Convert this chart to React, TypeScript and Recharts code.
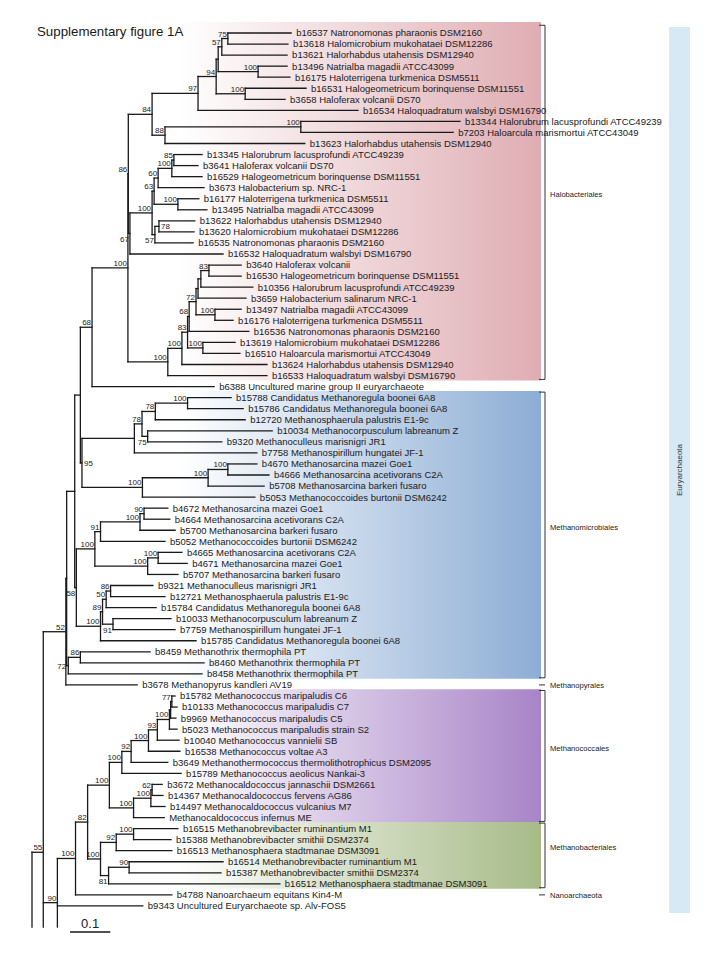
import React from 'react';
import { ComposedChart, XAxis, YAxis, Scatter, ReferenceLine, ReferenceArea } from 'recharts';

type NodeDef = [string, number, number | null, string[]];

const leafNames: string[] = [
  'b16537 Natronomonas pharaonis DSM2160',
  'b13618 Halomicrobium mukohataei DSM12286',
  'b13621 Halorhabdus utahensis DSM12940',
  'b13496 Natrialba magadii ATCC43099',
  'b16175 Haloterrigena turkmenica DSM5511',
  'b16531 Halogeometricum borinquense DSM11551',
  'b3658 Haloferax volcanii DS70',
  'b16534 Haloquadratum walsbyi DSM16790',
  'b13344 Halorubrum lacusprofundi ATCC49239',
  'b7203 Haloarcula marismortui ATCC43049',
  'b13623 Halorhabdus utahensis DSM12940',
  'b13345 Halorubrum lacusprofundi ATCC49239',
  'b3641 Haloferax volcanii DS70',
  'b16529 Halogeometricum borinquense DSM11551',
  'b3673 Halobacterium sp. NRC-1',
  'b16177 Haloterrigena turkmenica DSM5511',
  'b13495 Natrialba magadii ATCC43099',
  'b13622 Halorhabdus utahensis DSM12940',
  'b13620 Halomicrobium mukohataei DSM12286',
  'b16535 Natronomonas pharaonis DSM2160',
  'b16532 Haloquadratum walsbyi DSM16790',
  'b3640 Haloferax volcanii',
  'b16530 Halogeometricum borinquense DSM11551',
  'b10356 Halorubrum lacusprofundi ATCC49239',
  'b3659 Halobacterium salinarum NRC-1',
  'b13497 Natrialba magadii ATCC43099',
  'b16176 Haloterrigena turkmenica DSM5511',
  'b16536 Natronomonas pharaonis DSM2160',
  'b13619 Halomicrobium mukohataei DSM12286',
  'b16510 Haloarcula marismortui ATCC43049',
  'b13624 Halorhabdus utahensis DSM12940',
  'b16533 Haloquadratum walsbyi DSM16790',
  'b6388 Uncultured marine group II euryarchaeote',
  'b15788 Candidatus Methanoregula boonei 6A8',
  'b15786 Candidatus Methanoregula boonei 6A8',
  'b12720 Methanosphaerula palustris E1-9c',
  'b10034 Methanocorpusculum labreanum Z',
  'b9320 Methanoculleus marisnigri JR1',
  'b7758 Methanospirillum hungatei JF-1',
  'b4670 Methanosarcina mazei Goe1',
  'b4666 Methanosarcina acetivorans C2A',
  'b5708 Methanosarcina barkeri fusaro',
  'b5053 Methanococcoides burtonii DSM6242',
  'b4672 Methanosarcina mazei Goe1',
  'b4664 Methanosarcina acetivorans C2A',
  'b5700 Methanosarcina barkeri fusaro',
  'b5052 Methanococcoides burtonii DSM6242',
  'b4665 Methanosarcina acetivorans C2A',
  'b4671 Methanosarcina mazei Goe1',
  'b5707 Methanosarcina barkeri fusaro',
  'b9321 Methanoculleus marisnigri JR1',
  'b12721 Methanosphaerula palustris E1-9c',
  'b15784 Candidatus Methanoregula boonei 6A8',
  'b10033 Methanocorpusculum labreanum Z',
  'b7759 Methanospirillum hungatei JF-1',
  'b15785 Candidatus Methanoregula boonei 6A8',
  'b8459 Methanothrix thermophila PT',
  'b8460 Methanothrix thermophila PT',
  'b8458 Methanothrix thermophila PT',
  'b3678 Methanopyrus kandleri AV19',
  'b15782 Methanococcus maripaludis C6',
  'b10133 Methanococcus maripaludis C7',
  'b9969 Methanococcus maripaludis C5',
  'b5023 Methanococcus maripaludis strain S2',
  'b10040 Methanococcus vannielii SB',
  'b16538 Methanococcus voltae A3',
  'b3649 Methanothermococcus thermolithotrophicus DSM2095',
  'b15789 Methanococcus aeolicus Nankai-3',
  'b3672 Methanocaldococcus jannaschii DSM2661',
  'b14367 Methanocaldococcus fervens AG86',
  'b14497 Methanocaldococcus vulcanius M7',
  'Methanocaldococcus infernus ME',
  'b16515 Methanobrevibacter ruminantium M1',
  'b15388 Methanobrevibacter smithii DSM2374',
  'b16513 Methanosphaera stadtmanae DSM3091',
  'b16514 Methanobrevibacter ruminantium M1',
  'b15387 Methanobrevibacter smithii DSM2374',
  'b16512 Methanosphaera stadtmanae DSM3091',
  'b4788 Nanoarchaeum equitans Kin4-M',
  'b9343 Uncultured Euryarchaeote sp. Alv-FOS5',
];

// distance from root (substitutions per site) of each leaf tip
const tipDepths: number[] = [
  0.643, 0.635, 0.633, 0.633, 0.640, 0.680, 0.628, 0.809, 1.062, 1.045,
  0.677, 0.422, 0.412, 0.422, 0.427, 0.414, 0.434, 0.404, 0.402, 0.400,
  0.474, 0.519, 0.519, 0.548, 0.531, 0.519, 0.499, 0.538, 0.504, 0.516,
  0.583, 0.583, 0.452, 0.494, 0.524, 0.529, 0.596, 0.471, 0.558, 0.558,
  0.588, 0.576, 0.553, 0.337, 0.342, 0.355, 0.330, 0.372, 0.385, 0.362,
  0.300, 0.330, 0.308, 0.345, 0.355, 0.407, 0.293, 0.427, 0.422, 0.261,
  0.355, 0.360, 0.357, 0.360, 0.365, 0.367, 0.337, 0.370, 0.323, 0.325,
  0.330, 0.328, 0.362, 0.345, 0.347, 0.474, 0.469, 0.615, 0.347, 0.275,
];

// branches that continue past the bottom of the figure (cut off)
const continuationIds: string[] = ['ph1', 'ph2', 'ph3'];
const continuationRows: number[] = [82.7, 94.1, 110];

// [id, depth, bootstrap, children]
const haloNodes: NodeDef[] = [
  ['A', 0.486, 75, ['L1', 'L2']],
  ['B', 0.471, 57, ['A', 'L3']],
  ['C', 0.561, 100, ['L4', 'L5']],
  ['BC', 0.462, null, ['B', 'C']],
  ['D', 0.529, 100, ['L6', 'L7']],
  ['E', 0.457, 94, ['BC', 'D']],
  ['F', 0.412, 97, ['E', 'L8']],
  ['G', 0.667, 100, ['L9', 'L10']],
  ['H', 0.330, 88, ['G', 'L11']],
  ['I', 0.298, 84, ['F', 'H']],
  ['J', 0.352, 85, ['L12', 'L13']],
  ['K', 0.347, 100, ['J', 'L14']],
  ['Lq', 0.313, 60, ['K', 'L15']],
  ['Mq', 0.362, 100, ['L16', 'L17']],
  ['N', 0.303, 63, ['Lq', 'Mq']],
  ['O', 0.315, 78, ['L18', 'L19']],
  ['Pq', 0.305, 57, ['O', 'L20']],
  ['Q', 0.298, 100, ['N', 'Pq']],
  ['R', 0.243, 67, ['Q', 'L21']],
  ['S', 0.239, 86, ['I', 'R']],
  ['U1', 0.439, 83, ['L22', 'L23']],
  ['U2', 0.419, null, ['U1', 'L24']],
  ['U3', 0.412, null, ['U2', 'L25']],
  ['U4', 0.454, 100, ['L26', 'L27']],
  ['U5', 0.407, 72, ['U3', 'U4']],
  ['U6', 0.390, 68, ['U5', 'L28']],
  ['X1', 0.424, 100, ['L29', 'L30']],
  ['U7', 0.386, 83, ['U6', 'X1']],
  ['Yh', 0.372, 100, ['U7', 'L31']],
  ['U', 0.337, 100, ['Yh', 'L32']],
  ['T', 0.238, 100, ['S', 'U']],
  ['V', 0.149, 68, ['T', 'L33']],
];

const microNodes: NodeDef[] = [
  ['M1', 0.386, 100, ['L34', 'L35']],
  ['M2', 0.306, 78, ['M1', 'L36']],
  ['M3', 0.287, 75, ['L37', 'L38']],
  ['M4', 0.273, 78, ['M2', 'M3']],
  ['M5', 0.254, null, ['M4', 'L39']],
  ['M6', 0.486, 100, ['L40', 'L41']],
  ['M7', 0.437, 100, ['M6', 'L42']],
  ['M8', 0.274, 100, ['M7', 'L43']],
  ['M9', 0.124, 95, ['M5', 'M8']],
  ['Z', 0.120, null, ['V', 'M9']],
  ['M10', 0.278, 90, ['L44', 'L45']],
  ['M11', 0.268, 100, ['M10', 'L46']],
  ['M12', 0.170, 91, ['M11', 'L47']],
  ['M13', 0.313, 100, ['L48', 'L49']],
  ['M14', 0.287, 100, ['M13', 'L50']],
  ['M15', 0.156, 100, ['M12', 'M14']],
  ['M16', 0.195, 86, ['L51', 'L52']],
  ['M17', 0.184, 50, ['M16', 'L53']],
  ['M18', 0.201, 91, ['L54', 'L55']],
  ['M19', 0.175, 89, ['M17', 'M18']],
  ['M20', 0.170, 100, ['M19', 'L56']],
  ['M21', 0.110, 58, ['M15', 'M20']],
  ['Y2', 0.106, null, ['Z', 'M21']],
  ['N1', 0.120, 86, ['L57', 'L58']],
  ['N2', 0.090, 72, ['N1', 'L59']],
  ['X', 0.086, null, ['Y2', 'N2']],
  ['W52', 0.084, 52, ['X', 'L60']],
];

const coccusNodes: NodeDef[] = [
  ['C1', 0.347, 77, ['L61', 'L62']],
  ['C2', 0.344, null, ['C1', 'L63']],
  ['C3', 0.341, 100, ['C2', 'L64']],
  ['C4', 0.311, 93, ['C3', 'L65']],
  ['C5', 0.289, 100, ['C4', 'L66']],
  ['C6', 0.246, 92, ['C5', 'L67']],
  ['C7', 0.223, 100, ['C6', 'L68']],
  ['C8', 0.298, 62, ['L69', 'L70']],
  ['C9', 0.295, 100, ['C8', 'L71']],
  ['C10', 0.252, 100, ['C9', 'L72']],
  ['C11', 0.192, 100, ['C7', 'C10']],
  ['B1', 0.252, 100, ['L73', 'L74']],
  ['B2', 0.209, 92, ['B1', 'L75']],
  ['B3', 0.241, 90, ['L76', 'L77']],
  ['B4', 0.190, 81, ['B3', 'L78']],
  ['B5', 0.170, 100, ['B2', 'B4']],
  ['C12', 0.138, 82, ['C11', 'B5']],
  ['D1', 0.108, 100, ['C12', 'L79']],
  ['D2', 0.063, 90, ['D1', 'L80', 'ph1']],
  ['R2', 0.028, 55, ['W52', 'D2', 'ph2']],
  ['R1', 0.0, null, ['R2', 'ph3']],
];

const cladeNames: string[] = ['Halobacteriales', 'Methanomicrobiales', 'Methanopyrales', 'Methanococcales', 'Methanobacteriales', 'Nanoarchaeota'];
const cladeFirstLeaf: number[] = [1, 34, 60, 61, 73, 79];
const cladeLastLeaf: number[] = [32, 59, 60, 72, 78, 79];
const bandCladeIndex: number[] = [0, 1, 3, 4];
const bandColors: string[] = ['#dfadb3', '#8cadd5', '#a884c7', '#a7bb88'];

const labelSide: Record<string, string> = {
  O: 'right', Pq: 'below', R: 'below', M3: 'below', M9: 'right', M18: 'below', B4: 'below', N2: 'mid', M21: 'below',
};

// ---------- layout (pixels -> axis units) ----------
const W = 720;
const H = 960;
const X_DOMAIN: [number, number] = [-0.0794, 1.7072];
const Y_DOMAIN: [number, number] = [-2.986, 83.891];
const toDepth = (px: number) => X_DOMAIN[0] + (px / W) * (X_DOMAIN[1] - X_DOMAIN[0]);
const toRow = (py: number) => Y_DOMAIN[0] + (py / H) * (Y_DOMAIN[1] - Y_DOMAIN[0]);
const CUT_ROW = toRow(927);

const allNodes: NodeDef[] = [...haloNodes, ...microNodes, ...coccusNodes];
const depth: Record<string, number> = {};
const row: Record<string, number> = {};
const kids: Record<string, string[]> = {};
const parentOf: Record<string, string> = {};
const continuation = new Set(continuationIds);
leafNames.forEach((_, i) => {
  depth['L' + (i + 1)] = tipDepths[i];
  row['L' + (i + 1)] = i;
});
continuationIds.forEach((id, i) => {
  row[id] = continuationRows[i];
});
allNodes.forEach(([id, d, , ch]) => {
  depth[id] = d;
  kids[id] = ch;
  ch.forEach((c) => (parentOf[c] = id));
});
const getRow = (id: string): number => {
  if (row[id] === undefined) {
    const ch = kids[id];
    row[id] = (getRow(ch[0]) + getRow(ch[ch.length - 1])) / 2;
  }
  return row[id];
};
allNodes.forEach((n) => getRow(n[0]));

type Seg = { k: string; x1: number; x2: number; y1: number; y2: number };
const segments: Seg[] = [];
Object.keys(parentOf).forEach((id) => {
  if (continuation.has(id)) return;
  if (row[id] > CUT_ROW) return;
  segments.push({ k: 'h' + id, x1: depth[parentOf[id]], x2: depth[id], y1: row[id], y2: row[id] });
});
allNodes.forEach(([id, d, , ch]) => {
  const top = row[ch[0]];
  const bot = Math.min(row[ch[ch.length - 1]], CUT_ROW);
  segments.push({ k: 'v' + id, x1: d, x2: d, y1: top, y2: bot });
});

const leafPoints = leafNames.map((name, i) => ({ x: tipDepths[i], y: i, name }));
const supportPoints = allNodes
  .filter((n) => n[2] !== null)
  .map(([id, d, b]) => ({ x: d, y: row[id], v: b, side: labelSide[id] || 'above' }));

const BR_X = toDepth(545);
const BR_TICK = toDepth(539);
const brackets = cladeNames.map((name, i) => {
  const single = cladeFirstLeaf[i] === cladeLastLeaf[i];
  const top = cladeFirstLeaf[i] - 1 - (i === 0 ? 0.7 : 0.5);
  const bot = cladeLastLeaf[i] - 1 + 0.35;
  return { name, single, top, bot, mid: single ? cladeFirstLeaf[i] - 1 : (top + bot) / 2 - 0.7 };
});
const bracketLabelPoints = brackets.map((b) => ({ x: BR_X, y: b.mid, name: b.name }));

const bands = bandCladeIndex.map((ci, i) => ({
  x1: toDepth(100),
  x2: toDepth(541),
  y1: cladeFirstLeaf[ci] - 1 - (ci === 0 ? 1.0 : 0.6),
  y2: cladeLastLeaf[ci] - 1 + 0.45 + (ci === 3 ? 0.05 : 0),
  color: bandColors[i],
  id: 'band' + i,
}));

const SCALE_ROW = toRow(932);
const SCALE_X0 = toDepth(70);
const scaleLabel = [{ x: SCALE_X0 + 0.05, y: SCALE_ROW, name: '0.1' }];

const FONT = 'Liberation Sans, Arial, Helvetica, sans-serif';

const LeafLabel = (p: any) => (
  <text x={p.cx + 5} y={p.cy + 3.4} fontSize={9.5} fontFamily={FONT} fill="#1a1a1a">
    {p.payload.name}
  </text>
);

const SupportLabel = (p: any) => {
  const { cx, cy, payload } = p;
  let x = cx - 1;
  let y = cy - 2;
  let anchor: 'end' | 'start' = 'end';
  if (payload.side === 'below') y = cy + 8.5;
  if (payload.side === 'right') {
    x = cx + 2;
    y = cy + 3;
    anchor = 'start';
  }
  if (payload.side === 'mid') {
    x = cx - 2;
    y = cy + 3;
  }
  return (
    <text x={x} y={y} fontSize={8} fontFamily={FONT} fill="#222" textAnchor={anchor}>
      {payload.v}
    </text>
  );
};

const BracketLabel = (p: any) => (
  <text x={p.cx + 5} y={p.cy + 2.8} fontSize={7.6} fontFamily={FONT} fill="#222">
    {p.payload.name}
  </text>
);

const ScaleLabel = (p: any) => (
  <text x={p.cx} y={p.cy - 4} fontSize={13} fontFamily={FONT} fill="#222" textAnchor="middle">
    {p.payload.name}
  </text>
);

export default function App() {
  return (
    <div style={{ width: W, height: H, position: 'relative', background: '#fff' }}>
      <style>{'body{margin:0;background:#fff}'}</style>
      <ComposedChart width={W} height={H} margin={{ top: 0, right: 0, bottom: 0, left: 0 }}>
        <defs>
          {bands.map((b) => (
            <linearGradient key={b.id} id={b.id} x1="0" y1="0" x2="1" y2="0">
              <stop offset="0%" stopColor="#ffffff" />
              <stop offset="18%" stopColor="#ffffff" />
              <stop offset="100%" stopColor={b.color} />
            </linearGradient>
          ))}
        </defs>
        <XAxis type="number" dataKey="x" domain={X_DOMAIN} hide allowDataOverflow />
        <YAxis type="number" dataKey="y" domain={Y_DOMAIN} hide reversed allowDataOverflow />
        {bands.map((b) => (
          <ReferenceArea
            key={b.id}
            x1={b.x1}
            x2={b.x2}
            y1={b.y1}
            y2={b.y2}
            fill={`url(#${b.id})`}
            fillOpacity={1}
            stroke="none"
            ifOverflow="visible"
          />
        ))}
        <ReferenceArea
          x1={toDepth(669)}
          x2={toDepth(690)}
          y1={toRow(27)}
          y2={toRow(913)}
          fill="#d6e9f5"
          fillOpacity={1}
          stroke="none"
          ifOverflow="visible"
          label={{ value: 'Euryarchaeota', angle: -90, position: 'center', fontSize: 8, fill: '#333', fontFamily: FONT }}
        />
        {segments.map((s) => (
          <ReferenceLine
            key={s.k}
            segment={[
              { x: s.x1, y: s.y1 },
              { x: s.x2, y: s.y2 },
            ]}
            stroke="#1a1a1a"
            strokeWidth={1.3}
            strokeLinecap="square"
            ifOverflow="visible"
          />
        ))}
        {brackets.map((b) =>
          b.single ? (
            <ReferenceLine
              key={'bs' + b.name}
              segment={[
                { x: BR_TICK, y: b.top + 0.5 },
                { x: BR_X, y: b.top + 0.5 },
              ]}
              stroke="#333"
              strokeWidth={1}
              ifOverflow="visible"
            />
          ) : (
            <React.Fragment key={'bf' + b.name}>
              <ReferenceLine
                segment={[
                  { x: BR_X, y: b.top },
                  { x: BR_X, y: b.bot },
                ]}
                stroke="#333"
                strokeWidth={1}
                ifOverflow="visible"
              />
              <ReferenceLine
                segment={[
                  { x: BR_TICK, y: b.top },
                  { x: BR_X, y: b.top },
                ]}
                stroke="#333"
                strokeWidth={1}
                ifOverflow="visible"
              />
              <ReferenceLine
                segment={[
                  { x: BR_TICK, y: b.bot },
                  { x: BR_X, y: b.bot },
                ]}
                stroke="#333"
                strokeWidth={1}
                ifOverflow="visible"
              />
            </React.Fragment>
          )
        )}
        <ReferenceLine
          segment={[
            { x: SCALE_X0, y: SCALE_ROW },
            { x: SCALE_X0 + 0.1, y: SCALE_ROW },
          ]}
          stroke="#1a1a1a"
          strokeWidth={1.3}
          ifOverflow="visible"
        />
        <Scatter data={leafPoints} shape={LeafLabel} isAnimationActive={false} />
        <Scatter data={supportPoints} shape={SupportLabel} isAnimationActive={false} />
        <Scatter data={bracketLabelPoints} shape={BracketLabel} isAnimationActive={false} />
        <Scatter data={scaleLabel} shape={ScaleLabel} isAnimationActive={false} />
      </ComposedChart>
      <div
        style={{
          position: 'absolute',
          left: 37,
          top: 24,
          fontFamily: FONT,
          fontSize: 13.3,
          color: '#1a1a1a',
          lineHeight: '16px',
          whiteSpace: 'nowrap',
        }}
      >
        Supplementary figure 1A
      </div>
    </div>
  );
}
